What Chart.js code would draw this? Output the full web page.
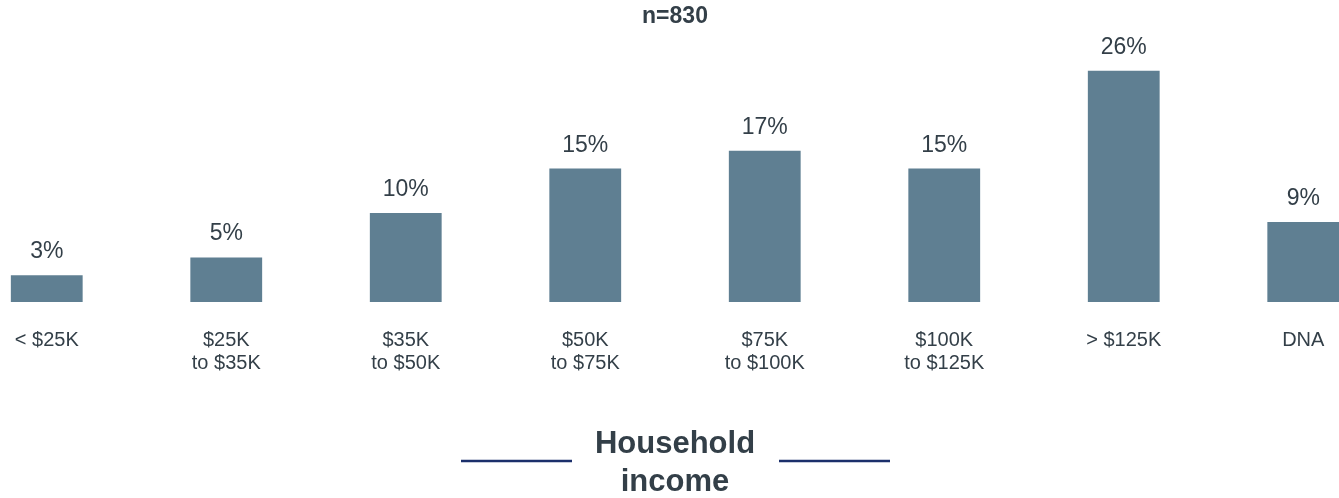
<!DOCTYPE html>
<html lang="en">
<head>
  <meta charset="UTF-8">
  <title>Household income</title>
  <script src="https://cdn.jsdelivr.net/npm/chart.js"></script>
  <style>
    html, body { margin: 0; padding: 0; background: #fff; overflow: hidden; }
    #wrap { position: absolute; left: -43px; top: 0; width: 1436px; height: 498px; }
  </style>
</head>
<body>
  <div id="wrap"><canvas id="chart"></canvas></div>
  <script>
    const categories = [
      ['< $25K'], ['$25K', 'to $35K'], ['$35K', 'to $50K'], ['$50K', 'to $75K'],
      ['$75K', 'to $100K'], ['$100K', 'to $125K'], ['> $125K'], ['DNA']
    ];
    const shares = [3, 5, 10, 15, 17, 15, 26, 9];

    const textColor = '#333f48';
    const barColor = '#5f7f92';

    // value labels above each bar
    const valueLabels = {
      id: 'valueLabels',
      afterDatasetsDraw(chart) {
        const ctx = chart.ctx;
        ctx.save();
        ctx.font = '23px "Liberation Sans", Arial, sans-serif';
        ctx.fillStyle = textColor;
        ctx.textAlign = 'center';
        ctx.textBaseline = 'alphabetic';
        chart.getDatasetMeta(0).data.forEach((bar, i) => {
          ctx.fillText(shares[i] + '%', bar.x, bar.y - 17);
        });
        ctx.restore();
      }
    };

    // rules either side of the axis title
    const titleRules = {
      id: 'titleRules',
      afterDraw(chart) {
        const ctx = chart.ctx;
        const cx = (chart.chartArea.left + chart.chartArea.right) / 2;
        const y = chart.height - 37;
        ctx.save();
        ctx.strokeStyle = '#1b2f6b';
        ctx.lineWidth = 2.5;
        ctx.beginPath();
        ctx.moveTo(cx - 214, y); ctx.lineTo(cx - 103, y);
        ctx.moveTo(cx + 104, y); ctx.lineTo(cx + 215, y);
        ctx.stroke();
        ctx.restore();
      }
    };

    new Chart(document.getElementById('chart'), {
      type: 'bar',
      data: {
        labels: categories,
        datasets: [{
          data: shares,
          backgroundColor: barColor,
          barPercentage: 0.4,
          categoryPercentage: 1
        }]
      },
      options: {
        responsive: true,
        maintainAspectRatio: false,
        animation: false,
        layout: { padding: 0 },
        plugins: {
          legend: { display: false },
          tooltip: { enabled: false },
          title: {
            display: true,
            text: 'n=830',
            color: textColor,
            font: { family: '"Liberation Sans", Arial, sans-serif', size: 23, weight: 'bold' },
            padding: { top: 3, bottom: 8 }
          }
        },
        scales: {
          x: {
            grid: { display: false, drawBorder: false },
            border: { display: false },
            ticks: {
              color: textColor,
              padding: 19,
              maxRotation: 0,
              autoSkip: false,
              font: { family: '"Liberation Sans", Arial, sans-serif', size: 20, lineHeight: 1.15 }
            },
            title: {
              display: true,
              text: ['Household', 'income'],
              color: textColor,
              font: { family: '"Liberation Sans", Arial, sans-serif', size: 31, weight: 'bold', lineHeight: 1.226 },
              padding: { top: 31, bottom: -3 }
            }
          },
          y: {
            display: false,
            min: 0,
            max: 29.6
          }
        }
      },
      plugins: [valueLabels, titleRules]
    });
  </script>
</body>
</html>
